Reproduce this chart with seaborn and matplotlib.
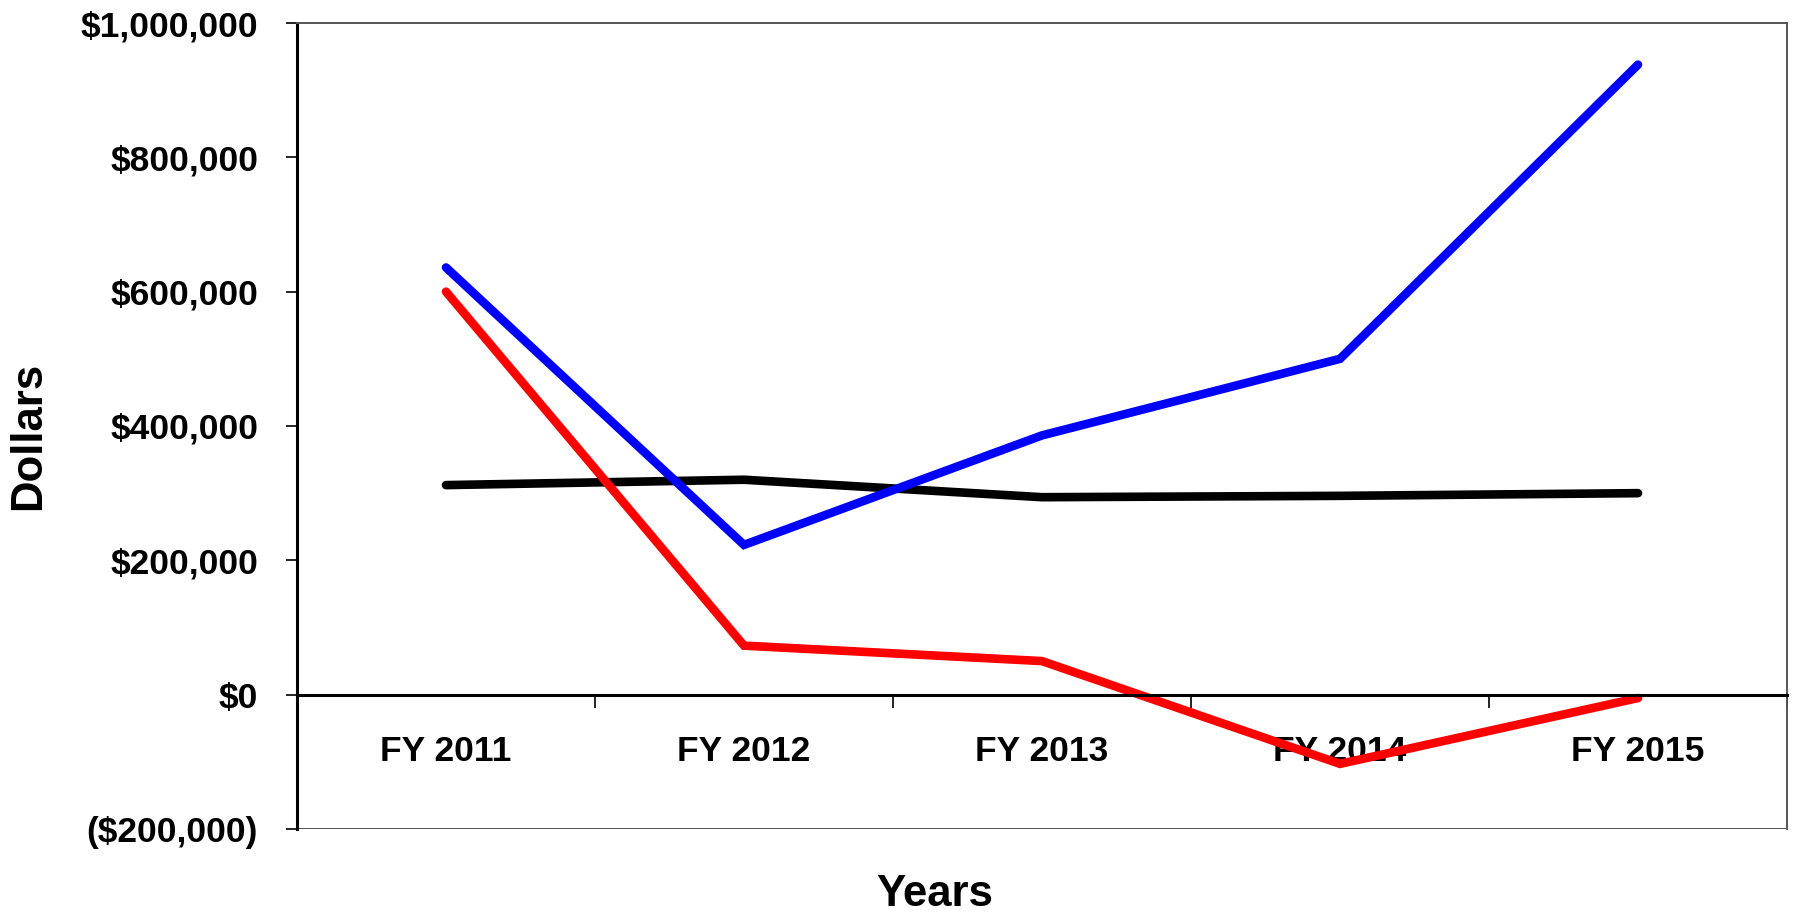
import matplotlib
matplotlib.use("Agg")
import matplotlib.pyplot as plt
import matplotlib.ticker as mticker
import seaborn as sns
import pandas as pd

# Fiscal-year series
years = ["FY 2011", "FY 2012", "FY 2013", "FY 2014", "FY 2015"]
black_series = [312000, 320000, 294000, 296000, 300000]
blue_series = [636000, 223000, 386000, 500000, 938000]
red_series = [600000, 73000, 50000, -103000, -5000]

y_ticks = [-200000, 0, 200000, 400000, 600000, 800000, 1000000]

sns.set_theme(style="white")
plt.rcParams["font.family"] = ["Liberation Sans", "DejaVu Sans"]
plt.rcParams["font.weight"] = "bold"
for key in ("text.color", "axes.labelcolor", "xtick.color", "ytick.color"):
    plt.rcParams[key] = "#000000"

frames = []
for name, vals in [("black", black_series), ("blue", blue_series), ("red", red_series)]:
    frames.append(pd.DataFrame({"year": years, "value": vals, "series": name}))
df = pd.concat(frames, ignore_index=True)

fig = plt.figure(figsize=(17.98, 9.17), dpi=100)
ax = fig.add_axes([297 / 1798, 1 - 829 / 917, (1787 - 297) / 1798, (829 - 23) / 917])

palette = {"black": "#000000", "blue": "#0000ff", "red": "#ff0000"}
sns.lineplot(data=df, x="year", y="value", hue="series", hue_order=["black", "blue", "red"],
             palette=palette, linewidth=6.2, sort=False, legend=False, ax=ax,
             solid_capstyle="round", solid_joinstyle="miter")

ax.set_xlim(-0.5, len(years) - 0.5)
ax.set_ylim(-200000, 1000000)

# y axis: dollar labels, parentheses for negatives
def dollars(v, _pos=None):
    v = int(round(v))
    if v < 0:
        return "(${:,})".format(-v)
    return "${:,}".format(v)

ax.set_yticks(y_ticks)
ax.yaxis.set_major_formatter(mticker.FuncFormatter(dollars))
ax.tick_params(axis="y", which="major", direction="out", length=8, width=1.2,
               color="#000000", labelcolor="#000000", pad=20, labelsize=25.5, left=True)

# x axis sits at zero; labels centred on categories, tick marks between them
ax.spines["bottom"].set_position(("data", 0))
ax.spines["bottom"].set_color("#000000")
ax.spines["bottom"].set_linewidth(2.2)
ax.set_xticks(range(len(years)))
ax.set_xticklabels(years)
ax.set_xticks([i - 0.5 for i in range(len(years) + 1)], minor=True)
ax.tick_params(axis="x", which="major", length=0, pad=29, labelsize=25.5,
               labelcolor="#000000")
ax.tick_params(axis="x", which="minor", direction="out", length=9, width=1.2,
               color="#000000", bottom=True)

ax.spines["left"].set_color("#000000")
ax.spines["left"].set_linewidth(2.2)
for side in ("top", "right"):
    ax.spines[side].set_color("#555555")
    ax.spines[side].set_linewidth(1.4)

# lower frame edge at the bottom of the value range
ax.axhline(-200000, color="#555555", linewidth=1.4, zorder=0.5)

for lab in ax.get_xticklabels() + ax.get_yticklabels():
    lab.set_fontweight("bold")

ax.set_xlabel("")
ax.set_ylabel("")
fig.text(935 / 1798, 1 - 894 / 917, "Years", ha="center", va="center",
         fontsize=31.5, fontweight="bold", color="#000000")
fig.text(29 / 1798, 1 - 436 / 917, "Dollars", ha="center", va="center",
         rotation=90, fontsize=31.5, fontweight="bold", color="#000000")

ax.grid(False)
fig.savefig("out.png", dpi=100, facecolor="white")
